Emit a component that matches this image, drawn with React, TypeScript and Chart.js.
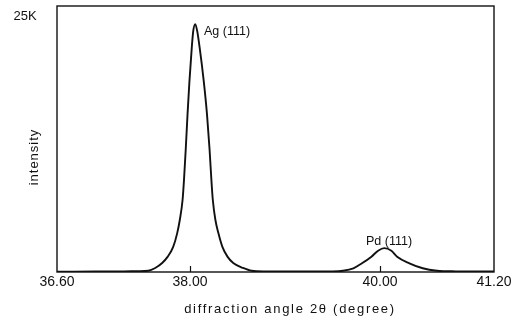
import React, { useEffect, useRef } from "react";
import { Chart, registerables } from "chart.js";

Chart.register(...registerables);

// diffraction angle 2θ (degree)
const angles = [
  36.6, 37.0, 37.3, 37.45, 37.561, 37.634, 37.707, 37.764, 37.823, 37.866,
  37.893, 37.922, 37.937, 37.955, 37.974, 37.994, 38.019, 38.034, 38.055,
  38.076, 38.101, 38.145, 38.179, 38.206, 38.225, 38.24, 38.267, 38.298,
  38.341, 38.396, 38.455, 38.558, 38.649, 38.8, 39.0, 39.3, 39.5, 39.61,
  39.72, 39.81, 39.91, 39.98, 40.045, 40.12, 40.18, 40.31, 40.45, 40.6,
  40.8, 41.2,
];
// intensity (K counts)
const intensity = [
  0.03, 0.04, 0.05, 0.08, 0.12, 0.38, 0.85, 1.42, 2.36, 3.68,
  4.91, 6.79, 8.68, 11.51, 14.81, 17.92, 21.13, 22.64, 23.3,
  22.64, 21.13, 17.92, 14.81, 11.51, 8.68, 6.79, 4.91, 3.68,
  2.36, 1.42, 0.85, 0.38, 0.12, 0.06, 0.05, 0.05, 0.06, 0.12,
  0.35, 0.82, 1.44, 2.0, 2.24, 2.0, 1.44, 0.82, 0.35, 0.12,
  0.06, 0.04,
];

const xTicks = [36.6, 38.0, 40.0, 41.2];
const innerTicks = [38.0, 40.0];
const yMax = 25;
const yMaxLabel = "25K";
const yTitle = "intensity";
const xTitle = "diffraction angle 2\u03b8 (degree)";

const peakNames = ["Ag (111)", "Pd (111)"];
const peakLabelX = [38.147, 40.095];
const peakLabelY = [22.64, 2.83];
const peakAlign: CanvasTextAlign[] = ["left", "center"];

const FONT = "'Liberation Sans', Arial, sans-serif";

export default function App() {
  const ref = useRef<HTMLCanvasElement | null>(null);

  useEffect(() => {
    document.body.style.margin = "0";
    const canvas = ref.current;
    if (!canvas) return;

    const decor = {
      id: "decor",
      afterDraw(chart: any) {
        const ctx = chart.ctx as CanvasRenderingContext2D;
        const a = chart.chartArea;
        const xs = chart.scales.x;
        const ys = chart.scales.y;
        ctx.save();
        ctx.strokeStyle = "#111";
        ctx.lineWidth = 1.4;
        ctx.strokeRect(a.left, a.top, a.right - a.left, a.bottom - a.top);
        // inward ticks
        ctx.lineWidth = 1.2;
        innerTicks.forEach((v) => {
          const px = Math.round(xs.getPixelForValue(v)) + 0.5;
          ctx.beginPath();
          ctx.moveTo(px, a.bottom);
          ctx.lineTo(px, a.bottom - 6);
          ctx.stroke();
        });
        ctx.fillStyle = "#111";
        // 25K label
        ctx.font = `13px ${FONT}`;
        ctx.textAlign = "center";
        ctx.textBaseline = "middle";
        ctx.fillText(yMaxLabel, 25, ys.getPixelForValue(yMax) + 10);
        // y title
        ctx.save();
        ctx.translate(34, 157);
        ctx.rotate(-Math.PI / 2);
        (ctx as any).letterSpacing = "1px";
        ctx.font = `13px ${FONT}`;
        ctx.fillText(yTitle, 0, 0);
        ctx.restore();
        // x title
        ctx.save();
        (ctx as any).letterSpacing = "1.7px";
        ctx.font = `13px ${FONT}`;
        ctx.textAlign = "center";
        ctx.fillText(xTitle, 290, 309);
        ctx.restore();
        // peak labels
        ctx.font = `12.5px ${FONT}`;
        peakNames.forEach((n, i) => {
          ctx.textAlign = peakAlign[i];
          ctx.fillText(n, xs.getPixelForValue(peakLabelX[i]), ys.getPixelForValue(peakLabelY[i]));
        });
        ctx.restore();
      },
    };

    const chart = new Chart(canvas, {
      type: "line",
      data: {
        datasets: [
          {
            data: angles.map((x, i) => ({ x, y: intensity[i] })),
            borderColor: "#111",
            borderWidth: 1.9,
            pointRadius: 0,
            fill: false,
            cubicInterpolationMode: "monotone",
          },
        ],
      },
      options: {
        animation: false,
        responsive: false,
        events: [],
        layout: { padding: { top: 6, right: 23, left: 0, bottom: 0 } },
        plugins: { legend: { display: false }, tooltip: { enabled: false } },
        scales: {
          x: {
            type: "linear",
            min: 36.6,
            max: 41.2,
            grid: { display: false, drawTicks: false },
            border: { display: false },
            afterBuildTicks: (s: any) => {
              s.ticks = xTicks.map((v) => ({ value: v }));
            },
            afterFit: (s: any) => {
              s.height = 50;
            },
            ticks: {
              color: "#111",
              padding: 2,
              maxRotation: 0,
              autoSkip: false,
              font: { family: FONT, size: 14 },
              callback: (v: any) => Number(v).toFixed(2),
            },
          },
          y: {
            min: 0,
            max: yMax,
            grid: { display: false, drawTicks: false },
            border: { display: false },
            ticks: { display: false },
            afterFit: (s: any) => {
              s.width = 57;
            },
          },
        },
      },
      plugins: [decor],
    });
    return () => chart.destroy();
  }, []);

  return (
    <div style={{ position: "absolute", left: 0, top: 0, width: 517, height: 322, background: "#fff" }}>
      <canvas ref={ref} width={517} height={322} />
    </div>
  );
}
